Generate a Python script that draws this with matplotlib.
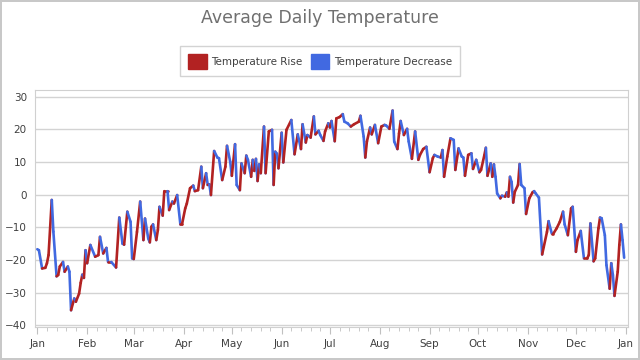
import numpy as np
import matplotlib
matplotlib.use('Agg')
import matplotlib.pyplot as plt
import matplotlib.dates as mdates
from matplotlib.collections import LineCollection
from matplotlib.patches import Patch

# day of year (0 = Jan 1, 2016) and temperature
days = [0, 1, 3, 5, 6, 7, 9, 10, 12, 13, 14, 16, 17, 19, 20, 21, 23, 24, 26, 27, 28, 29,
        30, 31, 33, 36, 38, 39, 41, 43, 44, 46, 49, 51, 53, 54, 56, 58, 59,
        60, 62, 64, 66, 67, 69, 70, 71, 72, 74, 75, 76, 78, 79, 81, 82, 84, 85, 87, 89, 90,
        92, 93, 95, 97, 98, 100, 102, 103, 105, 106, 107, 108, 110, 112, 113, 115, 117, 118,
        120, 121, 123, 124, 126, 127, 129, 130, 131, 133, 134, 135, 136, 137, 138, 139, 141,
        142, 144, 146, 147, 148, 149, 150, 152, 153, 155, 158, 160, 162, 164, 165, 167, 168,
        170, 172, 173, 175, 176, 178, 179, 181, 182, 183, 185, 186, 188, 190, 191, 193, 195,
        197, 200, 201, 203, 204, 205, 207, 208, 210, 212, 214, 216, 217, 219, 221, 222, 224,
        225, 226, 228, 230, 231, 233, 235, 237, 238, 240, 242, 244, 246, 247, 249, 251, 252,
        253, 255, 257, 259, 260, 262, 264, 265, 266, 268, 270, 271, 273, 275, 276, 278, 279,
        280, 282, 283, 284, 285, 286, 288, 289, 291, 292, 293, 294, 295, 296, 297, 299, 300,
        301, 303, 304, 306, 308, 309, 310, 312, 314, 315, 317, 318, 320, 321, 323, 325, 327,
        328, 330, 332, 333, 335, 336, 338, 340, 342, 343, 344, 346, 347, 349, 350, 351, 353,
        354, 356, 357, 358, 359, 361, 362, 363, 364, 365]
temps = [-16.7, -17, -22.6, -22.4, -21, -18.5, -1.6, -11.3, -25, -24.6, -22, -20.6, -23.6, -22, -23.6, -35.4, -31.8, -32.8, -30.3, -27, -24.5, -25.5,
         -17, -21, -15.4, -19, -18.5, -12.9, -18, -16.3, -20.6, -20.6, -22.3, -7, -15, -15.3, -5.2, -8.3, -19.5,
         -19.7, -11.4, -2.1, -13.9, -7.3, -13.4, -14.6, -9.8, -9.1, -13.9, -10.8, -3.7, -6.4, 1.1, 1.1, -4.7, -2.1, -2.7, -0.1, -9.1, -9.1,
         -4.2, -2.7, 2, 2.8, 1.1, 1.4, 8.6, 2, 6.6, 3, 3.2, -0.1, 13.4, 11.4, 11.2, 4.5, 8.6, 15,
         10.1, 5.8, 15.5, 3, 1.4, 9.6, 6.6, 12, 10.7, 5.5, 10.7, 7.3, 11, 4.2, 9.3, 6.6, 20.9,
         6.6, 19.4, 19.9, 3, 13.2, 12.6, 8.1, 19, 9.9, 19.9, 22.9, 12.4, 18.5, 14, 21.6, 16, 18.3,
         17.5, 24, 18.5, 19.6, 18.3, 16.5, 19.4, 21.9, 20.6, 22.6, 16.4, 23.4, 23.8, 24.7, 22.4, 21.9, 20.9,
         21.6, 22.4, 24.2, 17.8, 11.4, 16.3, 20.6, 18.5, 21.4, 15.8, 20.9, 21.4, 21.2, 20.2, 25.8, 16.3, 14,
         18.8, 22.6, 18.3, 20.2, 16.3, 11, 19.4, 10.7, 12.2, 14, 14.7, 6.9, 11.2, 12.2, 11.7, 11.4, 13.7,
         5.5, 11.7, 17.3, 16.8, 7.6, 14.2, 11.7, 11.4, 5.8, 12.2, 12.7, 7.9, 10.7, 6.9, 7.6, 12, 14.4,
         5.8, 9.6, 5.5, 9.3, 5.5, 0.4, -1.1, -0.3, -0.6, 0.7, -0.6, 5.5, 3.9, -2.4, 0.9, 3, 9.4,
         3, 2, -5.9, -1.1, 0.7, 1.1, 0.4, -0.9, -18.3, -16, -11.4, -8.1, -11.9, -11.9, -10.3, -8.3, -5.2,
         -9.1, -12.4, -4.2, -3.7, -17.5, -13.9, -11.1, -19.5, -19.5, -18.5, -8.8, -20.4, -19.5, -10.3, -7, -7.2, -12.4,
         -21.6, -28.8, -21, -24.6, -31, -23.6, -15.4, -9.1, -13.9, -19.3]
months = ['Jan', 'Feb', 'Mar', 'Apr', 'May', 'Jun', 'Jul', 'Aug', 'Sep', 'Oct', 'Nov', 'Dec', 'Jan']

rise_color = '#B22222'
fall_color = '#4169E1'
grid_color = '#D3D3D3'

dates = np.datetime64('2016-01-01') + np.array(days).astype('timedelta64[D]')
x = mdates.date2num(dates)
y = np.array(temps)

fig = plt.figure(figsize=(6.4, 3.6), dpi=100)
fig.patch.set_edgecolor('#C8C8C8')
fig.patch.set_linewidth(1.5)
ax = fig.add_axes([0.055, 0.092, 0.926, 0.658])

# one segment per step, red when rising, blue when falling
pts = np.column_stack([x, y]).reshape(-1, 1, 2)
segs = np.concatenate([pts[:-1], pts[1:]], axis=1)
cols = [rise_color if y[i + 1] >= y[i] else fall_color for i in range(len(y) - 1)]
lc = LineCollection(segs, colors=cols, linewidths=1.9, capstyle='round', joinstyle='round')
ax.add_collection(lc)

start = mdates.date2num(np.datetime64('2016-01-01'))
end = mdates.date2num(np.datetime64('2017-01-01'))
ax.set_xlim(start - 1.3, end + 1.3)
ax.set_ylim(-40.5, 32.1)

ax.set_yticks(range(-40, 31, 10))
ax.yaxis.grid(True, color=grid_color, linewidth=1)
ax.set_axisbelow(True)
ax.tick_params(axis='y', length=0, labelsize=7.5, labelcolor='#404040', pad=6)

month_ticks = [mdates.date2num(np.datetime64('2016-%02d-01' % m)) for m in range(1, 13)] + [end]
ax.set_xticks(month_ticks)
ax.set_xticklabels(months)
ax.xaxis.set_minor_locator(mdates.DayLocator(bymonthday=[7, 13, 19, 25]))
ax.tick_params(axis='x', which='major', length=5, color='#C0C0C0', labelsize=7.5,
               labelcolor='#404040', pad=4)
ax.tick_params(axis='x', which='minor', length=3, color='#C0C0C0')

for s in ax.spines.values():
    s.set_color('#D0D0D0')

fig.text(0.5, 0.95, 'Average Daily Temperature', ha='center', va='center',
         fontsize=12.5, color='#707070')

handles = [Patch(facecolor=rise_color, edgecolor=rise_color),
           Patch(facecolor=fall_color, edgecolor=fall_color)]
leg = fig.legend(handles, ['Temperature Rise', 'Temperature Decrease'], loc='center',
                 bbox_to_anchor=(0.5, 0.83), ncol=2, frameon=True, fancybox=False,
                 fontsize=7.5, handlelength=1.8, handleheight=1.8, handletextpad=0.4,
                 columnspacing=0.8, borderpad=0.75, borderaxespad=0)
leg.get_frame().set_edgecolor('#C8C8C8')
leg.get_frame().set_linewidth(1)
for t in leg.get_texts():
    t.set_color('#404040')

fig.savefig('out.png', dpi=100)
